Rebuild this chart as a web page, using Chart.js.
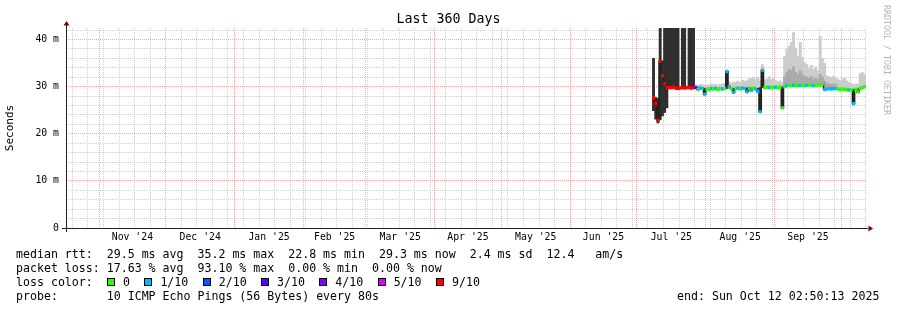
<!DOCTYPE html>
<html>
<head>
<meta charset="utf-8">
<script src="https://cdn.jsdelivr.net/npm/chart.js@4.4.0/dist/chart.umd.min.js"></script>
<style>
  html, body { margin: 0; padding: 0; background: #fff; }
  #wrap { position: relative; width: 897px; height: 310px; font-family: 'DejaVu Sans Mono', monospace; color: #000; }
  #wrap canvas { position: absolute; left: 0; top: 0; }
  .title { position: absolute; left: 0; top: 11px; width: 897px; text-align: center; font-size: 13.3px; line-height: 16px; }
  .wm { position: absolute; left: 882px; top: 5px; writing-mode: vertical-rl; font-size: 8.3px; line-height: 10px; color: #b4b4b4; }
  .txt { position: absolute; white-space: pre; font-size: 11.6px; line-height: 14px; }
  .loss { position: absolute; left: 107px; top: 275px; display: flex; align-items: center; font-size: 11.6px; line-height: 14px; white-space: pre; }
  .loss .box { width: 8px; height: 8px; box-sizing: border-box; border: 1px solid #000; margin-right: 8px; }
  .loss .lbl { margin-right: 14.4px; }
</style>
</head>
<body>
<div id="wrap">
  <canvas id="chart" width="897" height="310"></canvas>
  <div class="title">Last 360 Days</div>
  <div class="wm">RRDTOOL / TOBI OETIKER</div>
  <div class="txt" style="left:16px;top:247px">median rtt:  29.5 ms avg  35.2 ms max  22.8 ms min  29.3 ms now  2.4 ms sd  12.4   am/s</div>
  <div class="txt" style="left:16px;top:261px">packet loss: 17.63 % avg  93.10 % max  0.00 % min  0.00 % now</div>
  <div class="txt" style="left:16px;top:275px">loss color:</div>
  <div class="loss" id="lossLegend"></div>
  <div class="txt" style="left:16px;top:289px">probe:       10 ICMP Echo Pings (56 Bytes) every 80s</div>
  <div class="txt" style="left:677px;top:289px">end: Sun Oct 12 02:50:13 2025</div>
</div>
<script>
// time range of the graph: 360 days ending Oct 12 2025 02:50:13
const START = Date.UTC(2024, 9, 17, 2, 50, 13);
const END = Date.UTC(2025, 9, 12, 2, 50, 13);
const DAY = 86400000;
const firstDay = Date.UTC(2025, 6, 8, 12); // first sample: Jul 8 2025

const monthLabels = ["Nov '24", "Dec '24", "Jan '25", "Feb '25", "Mar '25", "Apr '25",
  "May '25", "Jun '25", "Jul '25", "Aug '25", "Sep '25"];
const yTickValues = [0, 10, 20, 30, 40];
const yTickLabels = ['0', '10 m', '20 m', '30 m', '40 m'];

// median rtt per day (ms)
const median = [
  27.7, 26.4, 22.9, 35.4, 32.3, 30.6, 29.8, 29.8, 29.8, 29.9,
  29.7, 29.6, 29.7, 29.8, 29.7, 29.8, 29.8, 29.7, 29.8, 29.8,
  29.4, 29.7, 29.6, 28.4, 29.5, 29.4, 29.6, 29.5, 29.6, 29.4,
  29.6, 29.5, 29.6, 33.2, 30.0, 29.6, 28.8, 29.6, 29.7, 29.5,
  29.7, 29.6, 28.9, 29.7, 29.2, 29.7, 29.5, 29.0, 24.7, 33.5,
  29.8, 29.9, 29.8, 29.9, 29.8, 29.9, 29.8, 29.9, 25.5, 30.0,
  30.2, 30.3, 30.2, 30.3, 30.2, 30.3, 30.2, 30.3, 30.2, 30.3,
  30.4, 30.3, 30.2, 30.3, 30.4, 30.3, 30.5, 29.4, 29.5, 29.6,
  29.5, 29.6, 29.6, 29.5, 29.4, 29.5, 29.4, 29.4, 29.3, 29.3,
  26.4, 29.4, 28.9, 29.6, 29.8, 30.0
];
// lost pings out of 10, per day
const lossCount = [
  9, 9, 9, 9, 9, 9, 9, 9, 9, 9,
  9, 9, 9, 9, 9, 9, 9, 9, 9, 3,
  0, 1, 1, 1, 0, 0, 1, 0, 1, 0,
  0, 1, 0, 1, 1, 0, 1, 0, 1, 0,
  1, 1, 1, 0, 1, 0, 1, 1, 1, 1,
  0, 0, 1, 0, 0, 1, 0, 0, 0, 0,
  1, 0, 0, 1, 0, 0, 1, 0, 0, 1,
  0, 0, 1, 0, 0, 0, 0, 1, 1, 1,
  1, 1, 1, 0, 0, 0, 0, 0, 1, 0,
  1, 0, 0, 0, 0, 0
];
// dense (dark) smoke range per day (ms)
const darkLo = [
  24.9, 23.1, 22.3, 23.0, 23.8, 24.5, 25.5, 29.6, 29.6, 29.7,
  29.6, 29.5, null, 29.6, 29.6, null, 29.6, 29.6, 29.6, null,
  null, null, null, 28.4, null, null, null, null, null, null,
  null, null, null, 29.6, null, null, 28.8, null, null, null,
  null, null, 28.9, null, null, null, null, 29.0, 24.7, 29.8,
  null, null, null, null, null, null, null, null, 25.5, null,
  null, null, null, null, null, null, null, null, null, null,
  null, null, null, null, null, null, null, null, null, null,
  null, null, null, null, null, null, null, null, null, null,
  26.4, null, 28.9, null, null, null
];
const darkHi = [
  36.0, 27.7, 27.5, 43.0, 35.5, 43.0, 43.0, 43.0, 43.0, 43.0,
  43.0, 43.0, null, 43.0, 43.0, null, 43.0, 43.0, 43.0, null,
  null, null, null, 29.6, null, null, null, null, null, null,
  null, null, null, 33.2, null, null, 29.6, null, null, null,
  null, null, 29.7, null, null, null, null, 29.6, 29.8, 33.5,
  null, null, null, null, null, null, null, null, 29.9, null,
  null, null, null, null, null, null, null, null, null, null,
  null, null, null, null, null, null, null, null, null, null,
  null, null, null, null, null, null, null, null, null, null,
  29.4, null, 29.4, null, null, null
];
// light smoke top (max ping), from day 19 on
const smokeFrom = 19;
const smokeHi = [
  30.4, 30.3, 30.5, 30.4, 30.3, 30.3, 30.4, 30.6, 30.4, 30.5,
  30.3, 30.5, 30.6, 30.7, 33.6, 31.0, 30.8, 30.9, 31.0, 31.2,
  30.9, 31.4, 31.1, 31.3, 31.6, 31.8, 32.0, 31.6, 32.0, 31.2,
  34.7, 31.4, 31.6, 32.1, 31.5, 31.8, 31.3, 31.0, 31.2, 30.8,
  36.4, 37.9, 38.6, 39.4, 41.5, 38.2, 36.4, 39.4, 36.2, 35.1,
  34.7, 33.8, 34.5, 33.6, 34.2, 33.4, 40.7, 36.0, 35.0, 32.3,
  32.1, 32.0, 32.2, 31.9, 31.5, 31.3, 31.6, 31.8, 31.2, 30.9,
  30.7, 30.4, 30.6, 30.5, 32.8, 33.0, 32.6
];
// medium smoke top, from day 59 on
const midFrom = 59;
const smokeMid = [
  32.0, 33.0, 33.6, 33.4, 34.2, 33.0, 32.6, 33.4, 32.5, 32.2,
  32.0, 31.8, 32.2, 31.6, 31.9, 31.5, 32.6, 32.0, 31.2, 30.8,
  30.6, 30.5, 30.6, 30.5
];

const lossLabels = ['0', '1/10', '2/10', '3/10', '4/10', '5/10', '9/10'];
const lossColors = ['#26ff00', '#00b8ff', '#0059ff', '#5e00ff', '#7e00ff', '#dd00ff', '#ff0000'];
const lossColor = n => lossColors[Math.min(n, 6)];

const GRID = 'rgba(140,140,140,0.4)';
const MGRID = 'rgba(245,128,128,0.67)';
const FONT = 'DejaVu Sans Mono';

const dayOf = t => (t - START) / DAY;
const xs = median.map((m, i) => dayOf(firstDay + i * DAY));

function buildXTicks() {
  const starts = [];
  for (let m = 10; m <= 21; m++) starts.push(Date.UTC(2024, m, 1));
  const ticks = starts.map(s => ({ value: dayOf(s), kind: 'major' }));
  for (let s = Date.UTC(2024, 9, 20); s < END; s += 7 * DAY) {
    const d = dayOf(s);
    if (!ticks.some(t => Math.abs(t.value - d) < 0.01)) ticks.push({ value: d, kind: 'minor' });
  }
  monthLabels.forEach((text, k) => {
    ticks.push({ value: dayOf((starts[k] + starts[k + 1]) / 2), kind: 'label', text });
  });
  return ticks.sort((a, b) => a.value - b.value);
}

// legend boxes
const legend = document.getElementById('lossLegend');
lossLabels.forEach((l, k) => {
  const b = document.createElement('span');
  b.className = 'box';
  b.style.background = lossColors[k];
  const t = document.createElement('span');
  t.className = 'lbl';
  t.textContent = l;
  legend.appendChild(b);
  legend.appendChild(t);
});

const rrdAxes = {
  id: 'rrdAxes',
  afterDraw(chart) {
    const { ctx, chartArea: a } = chart;
    ctx.save();
    ctx.strokeStyle = '#212121';
    ctx.lineWidth = 1;
    ctx.beginPath();
    ctx.moveTo(a.left + 0.5, a.bottom + 4);
    ctx.lineTo(a.left + 0.5, a.top - 3);
    ctx.moveTo(a.left - 4, a.bottom + 0.5);
    ctx.lineTo(a.right + 2, a.bottom + 0.5);
    ctx.stroke();
    ctx.fillStyle = '#800000';
    ctx.beginPath();
    ctx.moveTo(a.left + 0.5, a.top - 7);
    ctx.lineTo(a.left - 2.5, a.top - 2.5);
    ctx.lineTo(a.left + 3.5, a.top - 2.5);
    ctx.closePath();
    ctx.fill();
    ctx.beginPath();
    ctx.moveTo(a.right + 7, a.bottom + 0.5);
    ctx.lineTo(a.right + 2.5, a.bottom - 2.5);
    ctx.lineTo(a.right + 2.5, a.bottom + 3.5);
    ctx.closePath();
    ctx.fill();
    ctx.restore();
  }
};

new Chart(document.getElementById('chart'), {
  type: 'bar',
  data: {
    datasets: [
      {
        data: smokeHi.map((h, j) => ({ x: xs[smokeFrom + j], y: [median[smokeFrom + j], h] })),
        backgroundColor: '#cccccc',
        order: 6
      },
      {
        data: smokeMid.map((h, j) => ({ x: xs[midFrom + j], y: [median[midFrom + j], h] })),
        backgroundColor: '#aaaaaa',
        order: 5
      },
      {
        data: darkLo.map((lo, i) => ({ x: xs[i], y: lo == null ? null : [lo, darkHi[i]] })),
        backgroundColor: '#2f2f2f',
        order: 4
      },
      {
        type: 'line',
        data: median.map((m, i) => ({ x: xs[i], y: m })),
        borderColor: '#202020',
        borderWidth: 1.5,
        stepped: 'middle',
        pointRadius: 0,
        order: 3
      },
      {
        data: median.map((m, i) => ({ x: xs[i], y: [m - 0.28, m + 0.28] })),
        backgroundColor: c => lossColor(lossCount[c.dataIndex]),
        order: 2
      }
    ]
  },
  options: {
    responsive: false,
    animation: false,
    events: [],
    devicePixelRatio: 1,
    layout: { padding: { top: 28, right: 31, bottom: 0, left: 0 } },
    datasets: {
      bar: { grouped: false, barThickness: 2.25, borderWidth: 0 }
    },
    plugins: { legend: { display: false }, tooltip: { enabled: false }, title: { display: false } },
    scales: {
      x: {
        type: 'linear',
        min: 0,
        max: dayOf(END),
        offset: false,
        afterBuildTicks: s => { s.ticks = buildXTicks(); },
        afterFit: s => { s.height = 82; },
        ticks: {
          autoSkip: false,
          maxRotation: 0,
          minRotation: 0,
          padding: 4,
          color: '#000',
          font: { family: FONT, size: 9.8 },
          callback: (v, i, t) => t[i].text || ''
        },
        grid: {
          offset: false,
          drawTicks: false,
          lineWidth: 1,
          color: c => c.tick && c.tick.kind === 'major' ? MGRID : (c.tick && c.tick.kind === 'minor' ? GRID : 'rgba(0,0,0,0)')
        },
        border: { display: false, dash: [1, 1] }
      },
      y: {
        type: 'linear',
        min: 0,
        max: 42.45,
        afterBuildTicks: s => {
          const t = [];
          for (let v = 0; v <= 42; v += 2) t.push({ value: v });
          s.ticks = t;
        },
        afterFit: s => { s.width = 66; },
        ticks: {
          autoSkip: false,
          padding: 7,
          color: '#000',
          font: { family: FONT, size: 9.8 },
          callback: v => { const k = yTickValues.indexOf(v); return k < 0 ? '' : yTickLabels[k]; }
        },
        grid: {
          drawTicks: false,
          lineWidth: 1,
          color: c => c.tick && c.tick.value % 10 === 0 ? MGRID : GRID
        },
        border: { display: false, dash: [1, 1] },
        title: {
          display: true,
          text: 'Seconds',
          color: '#000',
          font: { family: FONT, size: 11 },
          padding: { top: 4, bottom: 0 }
        }
      }
    }
  },
  plugins: [rrdAxes]
});
</script>
</body>
</html>
